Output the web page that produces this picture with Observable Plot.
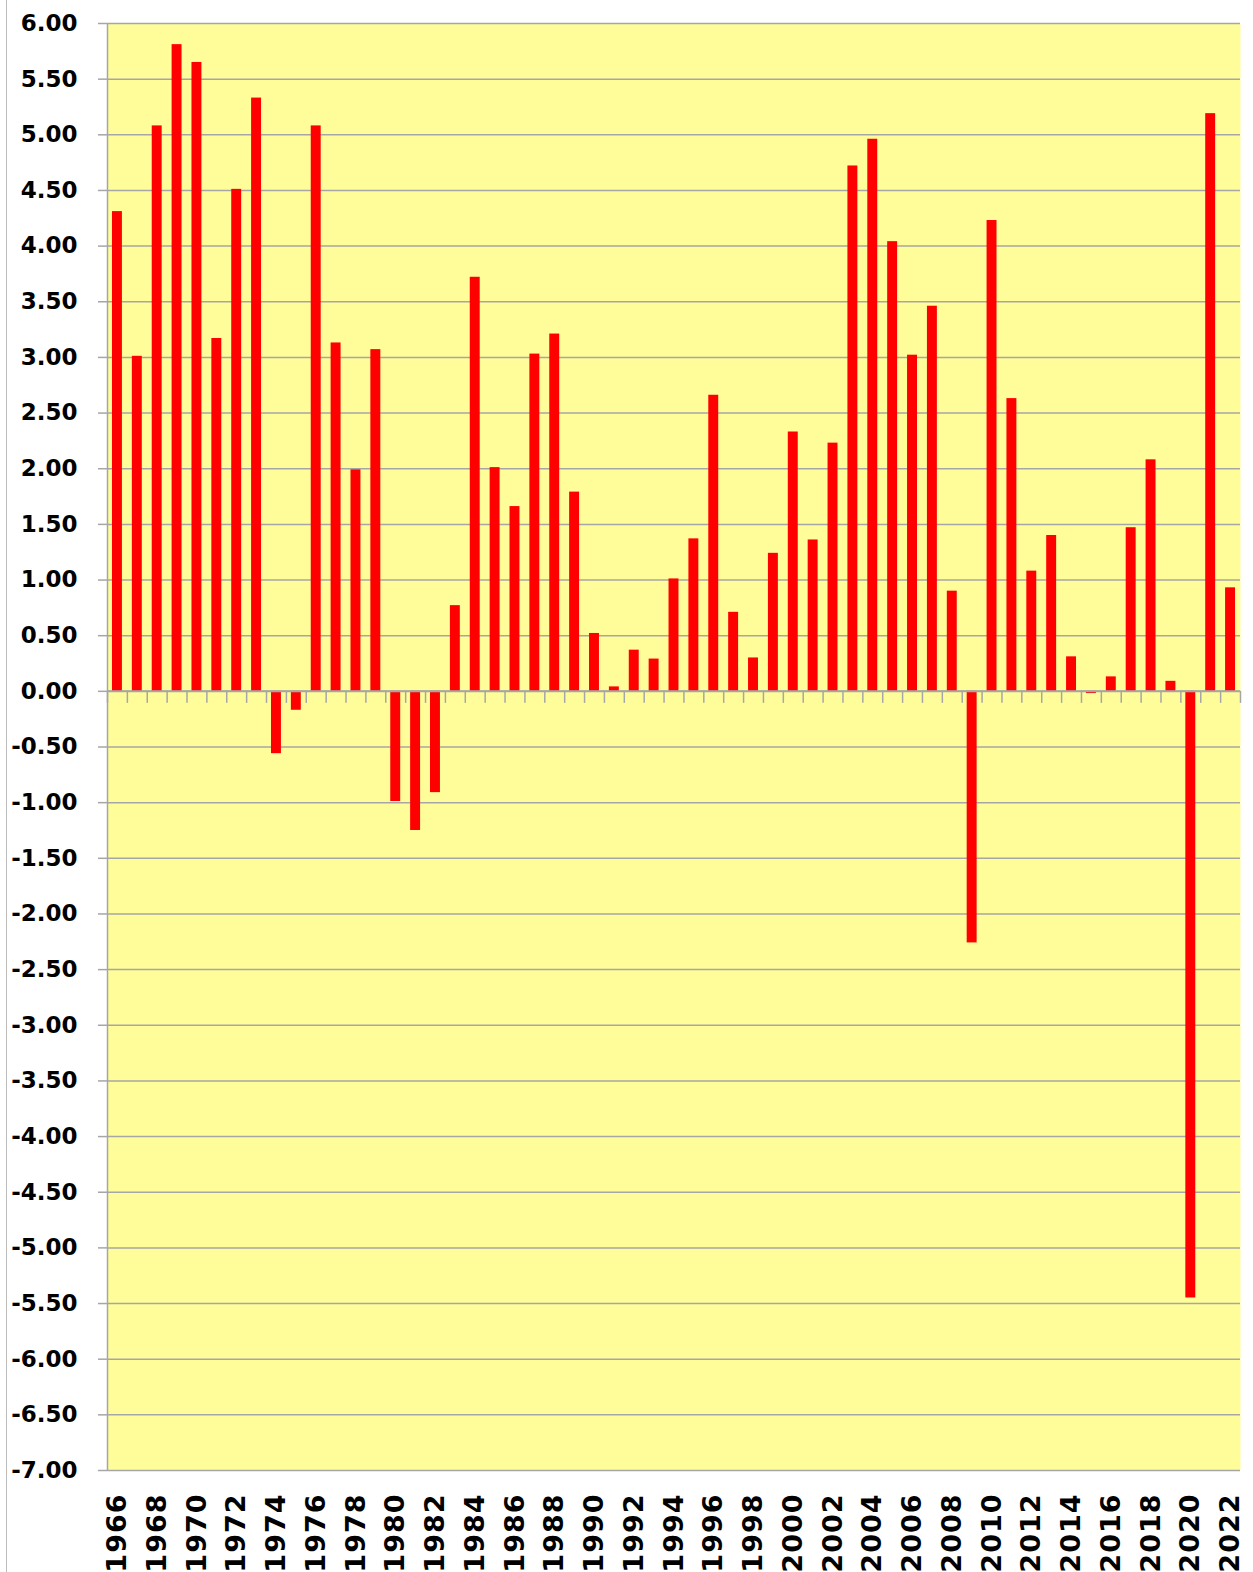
<!DOCTYPE html>
<html>
<head>
<meta charset="utf-8">
<script src="https://cdn.jsdelivr.net/npm/d3@7"></script>
<script src="https://cdn.jsdelivr.net/npm/@observablehq/plot@0.6"></script>
<style>
  html, body { margin: 0; padding: 0; background: #fff; }
  #wrap { position: relative; width: 1253px; height: 1572px; overflow: hidden; }
  #edge { position: absolute; left: 6px; top: 0; width: 0; height: 1572px; border-left: 1.5px solid #BDBDBD; }
</style>
</head>
<body>
<div id="wrap"><div id="edge"></div></div>
<script>
const years = d3.range(1966, 2023);
const values = [
  4.31, 3.01, 5.08, 5.81, 5.65, 3.17, 4.51, 5.33, -0.56, -0.17,
  5.08, 3.13, 1.99, 3.07, -0.99, -1.25, -0.91, 0.77, 3.72, 2.01,
  1.66, 3.03, 3.21, 1.79, 0.52, 0.04, 0.37, 0.29, 1.01, 1.37,
  2.66, 0.71, 0.30, 1.24, 2.33, 1.36, 2.23, 4.72, 4.96, 4.04,
  3.02, 3.46, 0.90, -2.26, 4.23, 2.63, 1.08, 1.40, 0.31, -0.02,
  0.13, 1.47, 2.08, 0.09, -5.45, 5.19, 0.93
];
const yTicks = d3.range(-7, 6.0001, 0.5).map(v => Math.round(v * 100) / 100);
const labelYears = years.filter(y => y % 2 === 0);
const boundaries = d3.range(1965.5, 2023, 1);

const data = years.map((year, i) => ({year, value: values[i]}));
const grid = "#A6A6A6";

const chart = Plot.plot({
  width: 1253,
  height: 1572,
  marginLeft: 107,
  marginRight: 13,
  marginTop: 23,
  marginBottom: 102,
  style: {fontFamily: "DejaVu Sans", color: "black", background: "transparent", overflow: "visible"},
  x: {domain: [1965.5, 2022.5], axis: null},
  y: {domain: [-7, 6], axis: null},
  marks: [
    Plot.frame({fill: "#FFFD99", stroke: null}),
    Plot.ruleY(yTicks, {stroke: grid, strokeWidth: 1.5}),
    Plot.axisY(yTicks, {
      label: null,
      tickSize: 9,
      tickPadding: 21,
      stroke: grid,
      strokeWidth: 1.5,
      tickFormat: d => d.toFixed(2),
      fontSize: 23,
      fontWeight: "bold",
      fill: "black"
    }),
    Plot.ruleX([1965.5], {y1: -7, y2: 6, stroke: grid, strokeWidth: 1.5}),
    Plot.rectY(data, {
      x1: d => d.year - 0.25,
      x2: d => d.year + 0.25,
      y1: 0,
      y2: "value",
      fill: "#FF0000"
    }),
    Plot.ruleY([0], {stroke: grid, strokeWidth: 2}),
    Plot.ruleX(boundaries, {y1: 0, y2: -0.108, stroke: grid, strokeWidth: 1.5}),
    Plot.text(labelYears, {
      x: d => d,
      y: () => -7,
      text: d => String(d),
      rotate: -90,
      textAnchor: "end",
      lineAnchor: "middle",
      dy: 23,
      fontSize: 27,
      fontWeight: "bold",
      fill: "black"
    })
  ]
});
document.getElementById("wrap").appendChild(chart);
d3.select(chart).selectAll('g[aria-label="text"] text').style("letter-spacing", "1px");
</script>
</body>
</html>
